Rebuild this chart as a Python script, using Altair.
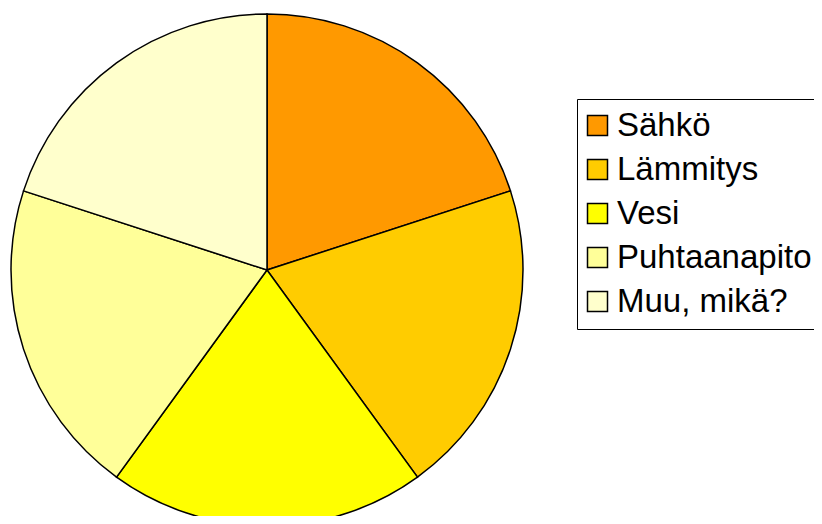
import altair as alt
import pandas as pd

categories = ["Sähkö", "Lämmitys", "Vesi", "Puhtaanapito", "Muu, mikä?"]
values = [1, 1, 1, 1, 1]
colors = ["#FF9900", "#FFCC00", "#FFFF00", "#FFFF99", "#FFFFCC"]

df = pd.DataFrame({"category": categories, "value": values, "order": list(range(len(categories)))})

chart = alt.Chart(df).mark_arc(stroke="black", strokeWidth=1.5, radius=256).encode(
    theta=alt.Theta("value:Q", stack=True),
    order=alt.Order("order:Q"),
    x=alt.value(259),
    y=alt.value(262),
    color=alt.Color(
        "category:N",
        sort=categories,
        scale=alt.Scale(domain=categories, range=colors),
        legend=alt.Legend(
            title=None,
            orient="none",
            legendX=569,
            legendY=91,
            symbolType="square",
            symbolSize=400,
            symbolStrokeColor="black",
            symbolStrokeWidth=1.5,
            symbolOpacity=1,
            symbolOffset=-6,
            labelFontSize=33,
            labelFont="Liberation Sans",
            labelColor="black",
            labelOffset=3,
            labelLimit=400,
            rowPadding=10,
            padding=10,
            strokeColor="black",
            fillColor="white",
        ),
    ),
).properties(
    width=806,
    height=508,
    autosize=alt.AutoSizeParams(type="none"),
    padding=0,
).configure_view(stroke=None)

chart.save("out.html", embed_options={"renderer": "svg", "actions": False})
